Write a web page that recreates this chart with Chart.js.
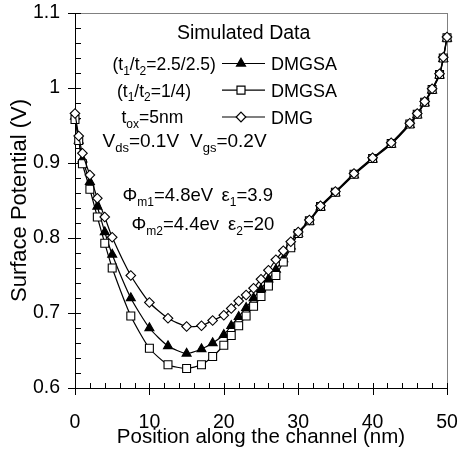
<!DOCTYPE html>
<html>
<head>
<meta charset="utf-8">
<script src="https://cdn.jsdelivr.net/npm/chart.js@4/dist/chart.umd.min.js"></script>
<style>
  html, body { margin: 0; padding: 0; background: #fff; }
  #wrap { width: 460px; height: 452px; position: relative; }
</style>
</head>
<body>
<div id="wrap"><canvas id="chart"></canvas></div>
<script>
// position along the channel (nm)
const positions = [0, 0.5, 1, 2, 3, 4, 5, 7.5, 10, 12.5, 15, 17, 18.5, 20, 21, 22, 23, 24, 25, 26, 27, 28, 29, 30,
  31.5, 33, 35, 37.5, 40, 42.5, 45, 46, 47, 48, 49, 49.5, 50];

// surface potential (V)
const dmgsaEqual = [0.962, 0.930, 0.905, 0.875, 0.842, 0.808, 0.778, 0.720, 0.680, 0.656, 0.646, 0.652, 0.660,
  0.671, 0.683, 0.695, 0.707, 0.720, 0.732, 0.745, 0.758, 0.772, 0.789, 0.806,
  0.822, 0.841, 0.860, 0.884, 0.905, 0.925, 0.951, 0.964, 0.980, 0.997, 1.017, 1.039, 1.066];
const dmgsaQuarter = [0.958, 0.930, 0.899, 0.865, 0.828, 0.793, 0.760, 0.696, 0.653, 0.631, 0.626, 0.631, 0.642,
  0.657, 0.670, 0.683, 0.696, 0.709, 0.722, 0.736, 0.750, 0.768, 0.787, 0.806,
  0.823, 0.842, 0.861, 0.885, 0.906, 0.926, 0.952, 0.965, 0.981, 0.998, 1.018, 1.040, 1.067];
const dmg = [0.966, 0.936, 0.913, 0.884, 0.853, 0.828, 0.801, 0.750, 0.714, 0.693, 0.682, 0.683, 0.690,
  0.697, 0.706, 0.716, 0.724, 0.733, 0.745, 0.757, 0.771, 0.783, 0.795, 0.808,
  0.824, 0.843, 0.862, 0.886, 0.907, 0.927, 0.953, 0.966, 0.982, 0.999, 1.019, 1.041, 1.068];

const xTicks = [0, 10, 20, 30, 40, 50];
const yTicks = [0.6, 0.7, 0.8, 0.9, 1.0, 1.1];

const FONT = 'Liberation Sans, Arial, sans-serif';

function toPoints(ys) {
  return positions.map((x, i) => ({ x: x, y: ys[i] }));
}

// draw text with subscripts: parts = [[text, isSub], ...]
function drawRich(ctx, parts, x, y, size) {
  let cx = x;
  ctx.textAlign = 'left';
  ctx.textBaseline = 'alphabetic';
  ctx.fillStyle = '#000';
  parts.forEach(([t, sub]) => {
    ctx.font = (sub ? Math.round(size * 0.66) : size) + 'px ' + FONT;
    ctx.fillText(t, cx, sub ? y + size * 0.28 : y);
    cx += ctx.measureText(t).width;
  });
}

function marker(ctx, style, x, y) {
  ctx.beginPath();
  if (style === 'triangle') {
    const r = 5.2;
    ctx.moveTo(x, y - r);
    ctx.lineTo(x + r * 0.866, y + r * 0.5);
    ctx.lineTo(x - r * 0.866, y + r * 0.5);
    ctx.closePath();
    ctx.fillStyle = '#000';
  } else if (style === 'rect') {
    ctx.rect(x - 4, y - 4, 8, 8);
    ctx.fillStyle = '#fff';
  } else {
    ctx.moveTo(x, y - 4.8); ctx.lineTo(x + 4.8, y); ctx.lineTo(x, y + 4.8); ctx.lineTo(x - 4.8, y);
    ctx.closePath();
    ctx.fillStyle = '#fff';
  }
  ctx.fill();
  ctx.stroke();
}

const framePlugin = {
  id: 'frame',
  beforeDatasetsDraw(chart) {
    const { ctx, chartArea: { left, right, top, bottom }, scales: { x, y } } = chart;
    ctx.save();
    ctx.lineWidth = 1;
    ctx.strokeStyle = '#808080';
    ctx.beginPath();
    ctx.moveTo(left, top + 0.5); ctx.lineTo(right + 0.5, top + 0.5);
    ctx.moveTo(right + 0.5, top); ctx.lineTo(right + 0.5, bottom);
    ctx.stroke();

    ctx.strokeStyle = '#000';
    ctx.beginPath();
    ctx.moveTo(left + 0.5, top); ctx.lineTo(left + 0.5, bottom + 0.5);
    ctx.moveTo(left, bottom + 0.5); ctx.lineTo(right + 0.5, bottom + 0.5);
    for (let v = 0; v <= 50; v += 2) {
      const px = Math.round(x.getPixelForValue(v)) + 0.5;
      ctx.moveTo(px, bottom - 5);
      ctx.lineTo(px, v % 10 === 0 ? bottom + 7 : bottom);
    }
    for (let k = 0; k <= 25; k++) {
      const py = Math.round(y.getPixelForValue(0.6 + k * 0.02)) + 0.5;
      ctx.moveTo(k % 5 === 0 ? left - 7 : left, py);
      ctx.lineTo(left + 6, py);
    }
    ctx.stroke();
    ctx.restore();
  },
  afterDraw(chart) {
    const { ctx } = chart;
    ctx.save();
    ctx.font = '19.5px ' + FONT;
    ctx.fillStyle = '#000';
    ctx.textBaseline = 'alphabetic';
    ctx.fillText('Simulated Data', 177, 39);

    drawRich(ctx, [['(t'], ['1', true], ['/t'], ['2', true], ['=2.5/2.5)']], 112.5, 70, 17.5);
    drawRich(ctx, [['(t'], ['1', true], ['/t'], ['2', true], ['=1/4)']], 117, 96.5, 17.5);
    drawRich(ctx, [['t'], ['ox', true], ['=5nm']], 121.5, 123, 17.5);
    drawRich(ctx, [['V'], ['ds', true], ['=0.1V']], 102.5, 147, 19);
    drawRich(ctx, [['V'], ['gs', true], ['=0.2V']], 190, 147, 19);
    drawRich(ctx, [['\u03A6'], ['m1', true], ['=4.8eV']], 122.5, 201, 18.5);
    drawRich(ctx, [['\u03B5'], ['1', true], ['=3.9']], 221.5, 201, 18.5);
    drawRich(ctx, [['\u03A6'], ['m2', true], ['=4.4ev']], 131.5, 229.5, 18.5);
    drawRich(ctx, [['\u03B5'], ['2', true], ['=20']], 228, 229.5, 18.5);

    const rows = [['triangle', 63.5], ['rect', 90.2], ['rectRot', 117]];
    ctx.strokeStyle = '#000';
    ctx.lineWidth = 1.2;
    rows.forEach(([st, ry]) => {
      ctx.beginPath();
      ctx.moveTo(222, ry); ctx.lineTo(265, ry);
      ctx.stroke();
      marker(ctx, st, 241, ry);
      ctx.font = '18px ' + FONT;
      ctx.fillStyle = '#000';
      ctx.fillText(st === 'rectRot' ? 'DMG' : 'DMGSA', 271, ry + 6.5);
    });
    ctx.restore();
  }
};

Chart.defaults.font.family = FONT;
Chart.defaults.color = '#000';

const common = {
  borderColor: '#000',
  borderWidth: 1.2,
  pointBorderColor: '#000',
  pointBorderWidth: 1.1,
  tension: 0.2,
  clip: false
};

new Chart(document.getElementById('chart'), {
  type: 'line',
  data: {
    datasets: [
      Object.assign({ label: 'DMGSA (t1/t2=2.5/2.5)', data: toPoints(dmgsaEqual), pointStyle: 'triangle',
        pointRadius: 5.2, pointBackgroundColor: '#000', order: 3 }, common),
      Object.assign({ label: 'DMGSA (t1/t2=1/4)', data: toPoints(dmgsaQuarter), pointStyle: 'rect',
        pointRadius: 5.6, pointBackgroundColor: '#fff', order: 2 }, common),
      Object.assign({ label: 'DMG', data: toPoints(dmg), pointStyle: 'rectRot',
        pointRadius: 4.8, pointBackgroundColor: '#fff', order: 1 }, common)
    ]
  },
  options: {
    responsive: true,
    maintainAspectRatio: false,
    animation: false,
    layout: { autoPadding: false, padding: { left: 0, right: 13, top: 13, bottom: 0 } },
    plugins: { legend: { display: false }, tooltip: { enabled: false } },
    scales: {
      x: {
        type: 'linear',
        min: 0, max: 50,
        afterBuildTicks: (s) => { s.ticks = xTicks.map(v => ({ value: v })); },
        afterFit: (s) => { s.height = 64; s.paddingLeft = 0; s.paddingRight = 0; },
        grid: { display: false, drawTicks: false },
        border: { display: false },
        ticks: { font: { size: 19.5 }, padding: 23, maxRotation: 0 },
        title: { display: true, text: 'Position along the channel (nm)', font: { size: 20.5 },
          padding: { top: 0, bottom: 2 } }
      },
      y: {
        min: 0.6, max: 1.1,
        afterBuildTicks: (s) => { s.ticks = yTicks.map(v => ({ value: v })); },
        afterFit: (s) => { s.width = 75; s.paddingTop = 0; s.paddingBottom = 0; },
        grid: { display: false, drawTicks: false },
        border: { display: false },
        ticks: { font: { size: 19.5 }, padding: 15, callback: (v) => String(Number(v.toFixed(1))) },
        title: { display: true, text: 'Surface Potential (V)', font: { size: 22 },
          padding: { top: 7, bottom: 0 } }
      }
    }
  },
  plugins: [framePlugin]
});
</script>
</body>
</html>
